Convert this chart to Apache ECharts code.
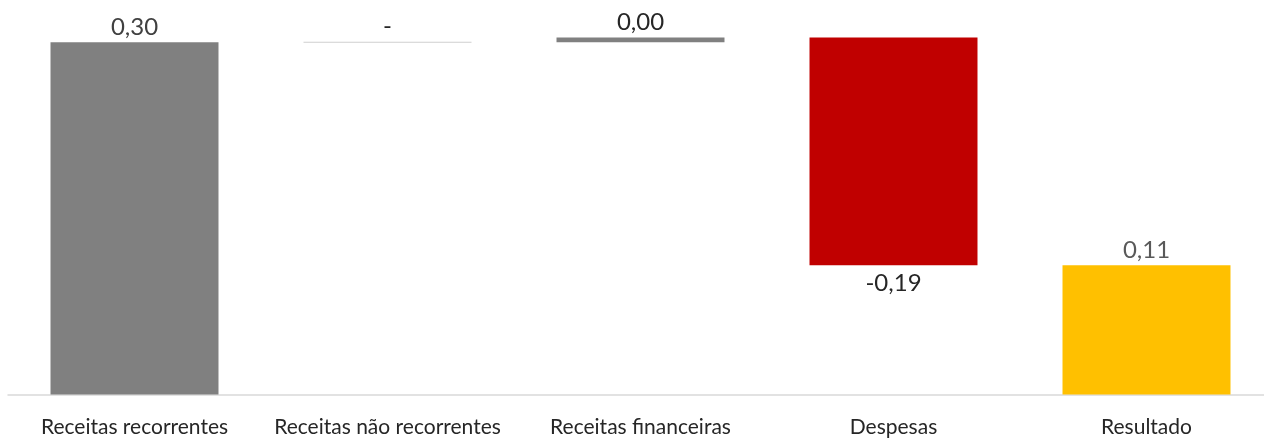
<!DOCTYPE html>
<html>
<head>
<meta charset="utf-8">
<script src="https://cdn.jsdelivr.net/npm/echarts@6/dist/echarts.min.js"></script>
<style>
html,body{margin:0;padding:0;background:#fff;}
#chart{width:1264px;height:438px;}
</style>
</head>
<body>
<div id="chart"></div>
<script>
const categories = ['Receitas recorrentes', 'Receitas não recorrentes', 'Receitas financeiras', 'Despesas', 'Resultado'];
const values = [0.300, 0, 0.004, -0.194, 0.110];
const valueLabels = ['0,30', '-', '0,00', '-0,19', '0,11'];
const isTotal = [false, false, false, false, true];
const barColors = ['#808080', '#CFCFCF', '#808080', '#C00000', '#FFC000'];
const labelColors = ['#404040', '#262626', '#262626', '#262626', '#595959'];

const data = [];
let running = 0;
values.forEach((v, i) => {
  if (isTotal[i]) {
    data.push([i, 0, v]);
  } else {
    data.push([i, running, running + v]);
    running += v;
  }
});

const chart = echarts.init(document.getElementById('chart'));
chart.setOption({
  animation: false,
  grid: { left: 8, width: 1265, top: 7, bottom: 43.5, containLabel: false, outerBoundsMode: 'none' },
  xAxis: {
    type: 'category',
    data: categories,
    axisTick: { show: false },
    axisLine: { lineStyle: { color: '#D9D9D9', width: 1.5 } },
    axisLabel: { interval: 0, margin: 22, fontFamily: 'Lato', fontSize: 21, color: '#262626', hideOverlap: false }
  },
  yAxis: { type: 'value', min: 0, max: 0.33, show: false, splitLine: { show: false } },
  series: [{
    type: 'custom',
    encode: { x: 0, y: [1, 2] },
    data: data,
    clip: false,
    renderItem: function (params, api) {
      const i = api.value(0);
      const s = api.value(1);
      const e = api.value(2);
      const p0 = api.coord([i, s]);
      const p1 = api.coord([i, e]);
      const w = api.size([1, 0])[0] * 0.664;
      const x = p0[0] - w / 2;
      let top = Math.min(p0[1], p1[1]);
      let h = Math.abs(p0[1] - p1[1]);
      if (h < 1) { top = top - 0.6; h = 1.2; }
      const up = e >= s;
      const children = [{
        type: 'rect',
        shape: { x: x, y: top, width: w, height: h },
        style: { fill: barColors[i] }
      }, {
        type: 'text',
        style: {
          text: valueLabels[i],
          x: p0[0],
          y: up ? top - 3 : top + h + 6,
          align: 'center',
          verticalAlign: up ? 'bottom' : 'top',
          fontFamily: 'Lato',
          fontSize: 24,
          fill: labelColors[i]
        }
      }];
      return { type: 'group', children: children };
    }
  }]
});
</script>
</body>
</html>
